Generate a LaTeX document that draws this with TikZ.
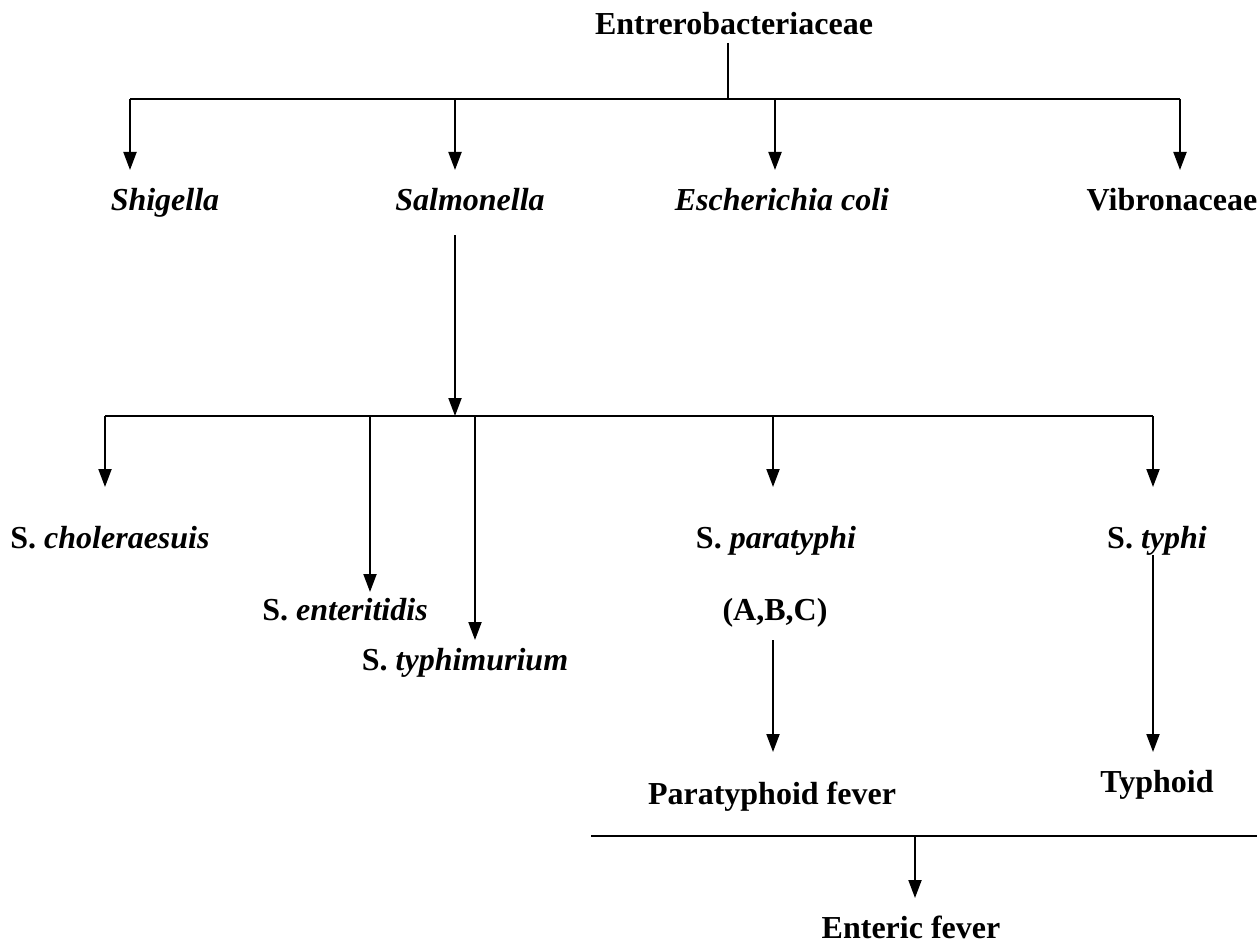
\documentclass[tikz,border=0pt]{standalone}
\usepackage{fontspec}
\setmainfont{Liberation Serif}
\usetikzlibrary{arrows.meta}
\begin{document}
\begin{tikzpicture}[x=1pt,y=-1pt,
  lbl/.style={font=\fontsize{32}{36}\selectfont\bfseries, inner sep=0pt, anchor=base},
  ln/.style={line width=2pt},
  arr/.style={line width=2pt, -{Triangle[length=18pt,width=13pt]}}]
\useasboundingbox (0,0) rectangle (1257,944);
% labels
\node[lbl] (ent) at (734,35) {Entrerobacteriaceae};
\node[lbl] (shig) at (165,211) {\textit{Shigella}};
\node[lbl] (salm) at (470,211) {\textit{Salmonella}};
\node[lbl] (ecoli) at (782,211) {\textit{Escherichia coli}};
\node[lbl] (vib) at (1172,211) {Vibronaceae};
\node[lbl] (chol) at (110,548) {S. \textit{choleraesuis}};
\node[lbl] (ente) at (345,620) {S. \textit{enteritidis}};
\node[lbl] (typhim) at (465,670) {S. \textit{typhimurium}};
\node[lbl] (para) at (776,548) {S. \textit{paratyphi}};
\node[lbl] (abc) at (775,620) {(A,B,C)};
\node[lbl] (typhi) at (1157,548) {S. \textit{typhi}};
\node[lbl] (pfev) at (772,804) {Paratyphoid fever};
\node[lbl] (typhoid) at (1157,792) {Typhoid};
\node[lbl] (enteric) at (911,938) {Enteric fever};
% junctions and arrow ends
\coordinate (e0) at (728,43);
\coordinate (e1) at (728,99);
\coordinate (h1l) at (130,99);
\coordinate (h1r) at (1180,99);
\coordinate (hsal) at (455,99);
\coordinate (hcol) at (775,99);
\coordinate (tshig) at (130,170);
\coordinate (tsal) at (455,170);
\coordinate (tcol) at (775,170);
\coordinate (tvib) at (1180,170);
\coordinate (s0) at (455,235);
\coordinate (s1) at (455,416);
\coordinate (h2l) at (105,416);
\coordinate (h2r) at (1153,416);
\coordinate (h2e) at (370,416);
\coordinate (h2t) at (475,416);
\coordinate (h2p) at (773,416);
\coordinate (tchol) at (105,487);
\coordinate (tente) at (370,592);
\coordinate (ttyphim) at (475,640);
\coordinate (tpara) at (773,487);
\coordinate (ttyphi) at (1153,487);
\coordinate (p0) at (773,640);
\coordinate (p1) at (773,752);
\coordinate (y0) at (1153,555);
\coordinate (y1) at (1153,752);
\coordinate (h3l) at (591,836);
\coordinate (h3r) at (1257,836);
\coordinate (h3m) at (915,836);
\coordinate (tent) at (915,898);
% connectors
\draw[ln] (e0) -- (e1);
\draw[ln] (h1l) -- (h1r);
\draw[arr] (h1l) -- (tshig);
\draw[arr] (hsal) -- (tsal);
\draw[arr] (hcol) -- (tcol);
\draw[arr] (h1r) -- (tvib);
\draw[arr] (s0) -- (s1);
\draw[ln] (h2l) -- (h2r);
\draw[arr] (h2l) -- (tchol);
\draw[arr] (h2e) -- (tente);
\draw[arr] (h2t) -- (ttyphim);
\draw[arr] (h2p) -- (tpara);
\draw[arr] (h2r) -- (ttyphi);
\draw[arr] (p0) -- (p1);
\draw[arr] (y0) -- (y1);
\draw[ln] (h3l) -- (h3r);
\draw[arr] (h3m) -- (tent);
\end{tikzpicture}
\end{document}
